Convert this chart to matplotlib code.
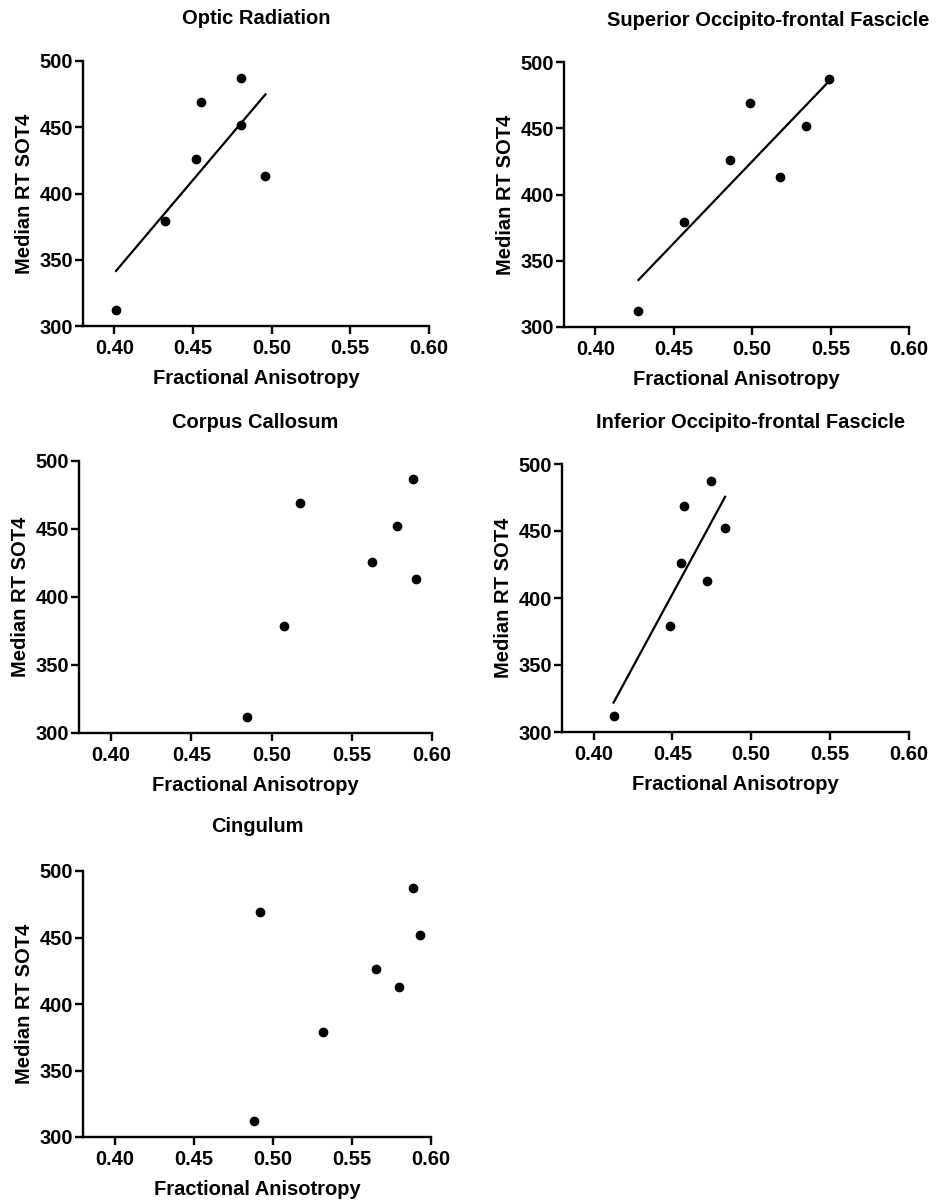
import numpy as np
import matplotlib
matplotlib.use("Agg")
import matplotlib.pyplot as plt

plt.rcParams['font.family'] = ['Liberation Sans', 'DejaVu Sans']
plt.rcParams['font.weight'] = 'bold'
plt.rcParams['axes.labelweight'] = 'bold'
plt.rcParams['font.size'] = 14.5

# median RT per subject (same subjects in every panel)
median_rt = [312, 379, 426, 469, 487, 452, 413]

# fractional anisotropy per tract, same subject order
fa_optic = [0.401, 0.432, 0.452, 0.455, 0.4805, 0.4805, 0.496]
fa_superior = [0.4275, 0.4566, 0.4858, 0.4989, 0.5487, 0.5345, 0.518]
fa_callosum = [0.4847, 0.5075, 0.5624, 0.5176, 0.5882, 0.578, 0.5898]
fa_inferior = [0.4127, 0.4487, 0.4554, 0.4576, 0.4745, 0.4834, 0.4717]
fa_cingulum = [0.4878, 0.532, 0.5653, 0.492, 0.5888, 0.5931, 0.58]

titles = ["Optic Radiation", "Superior Occipito-frontal Fascicle",
          "Corpus Callosum", "Inferior Occipito-frontal Fascicle", "Cingulum"]
fa_values = [fa_optic, fa_superior, fa_callosum, fa_inferior, fa_cingulum]
show_fit = [True, True, False, True, False]

x_ticks = [0.40, 0.45, 0.50, 0.55, 0.60]
y_ticks = [300, 350, 400, 450, 500]

W, H = 940, 1202
# axes boxes in pixels: left, top, right, bottom
boxes = [(83, 61, 429, 326), (564, 62, 909, 327),
         (79, 461, 432, 733), (562, 464, 909, 732),
         (83, 871, 431, 1137)]
title_pos = [(256, 18), (768, 20), (255, 423), (751, 423), (257, 826)]

fig = plt.figure(figsize=(W / 100, H / 100), dpi=100)

for i in range(5):
    l, t, r, b = boxes[i]
    ax = fig.add_axes([l / W, 1 - b / H, (r - l) / W, (b - t) / H])
    x = np.array(fa_values[i])
    y = np.array(median_rt)
    ax.plot(x, y, 'o', color='black', markersize=6, clip_on=False)
    if show_fit[i]:
        slope, intercept = np.polyfit(x, y, 1)
        xs = np.array([x.min(), x.max()])
        ax.plot(xs, slope * xs + intercept, color='black', linewidth=1.6)
    ax.set_xlim(0.38, 0.60)
    ax.set_ylim(300, 500)
    ax.set_xticks(x_ticks)
    ax.set_xticklabels(["{0:.2f}".format(v) for v in x_ticks])
    ax.set_yticks(y_ticks)
    for side in ['top', 'right']:
        ax.spines[side].set_visible(False)
    for side in ['left', 'bottom']:
        ax.spines[side].set_linewidth(1.7)
    ax.tick_params(axis='both', direction='out', width=1.7, length=5.5)
    ax.tick_params(axis='y', pad=1.5)
    ax.tick_params(axis='x', pad=4)
    ax.set_xlabel("Fractional Anisotropy", labelpad=8)
    ax.set_ylabel("Median RT SOT4", labelpad=4)
    tx, ty = title_pos[i]
    fig.text(tx / W, 1 - ty / H, titles[i], ha='center', va='center')

fig.savefig("out.png", dpi=100)
